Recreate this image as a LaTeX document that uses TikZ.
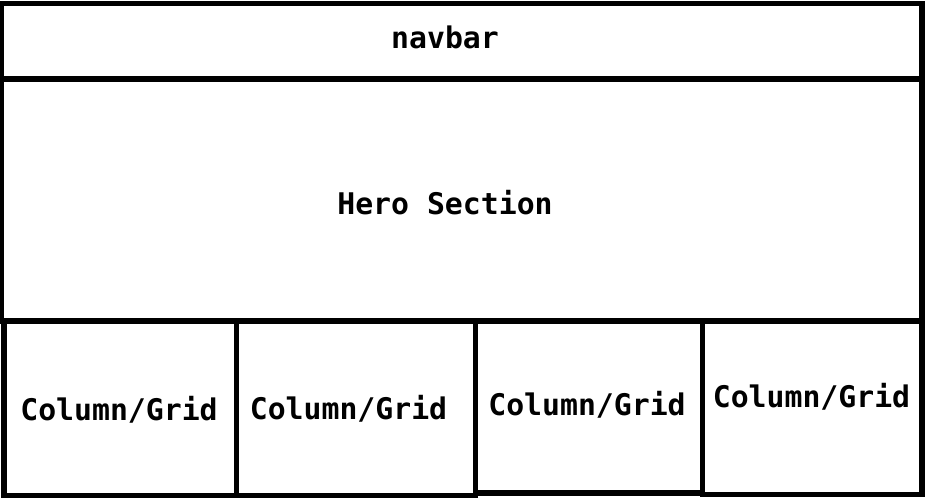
\documentclass[tikz,border=0pt]{standalone}
\usepackage{fontspec}
\setmonofont{DejaVu Sans Mono}
\begin{document}
\begin{tikzpicture}[x=1pt,y=1pt,
  box/.style={draw=black,line width=5.5pt},
  lbl/.style={anchor=base,inner sep=0pt,font=\ttfamily\bfseries\fontsize{29.8}{31}\selectfont}]
\useasboundingbox (0,0) rectangle (925,498);
\fill[white] (0,0) rectangle (925,498);
% boxes
\draw[box] (1,494.5) rectangle (922,419);
\draw[box] (1,419) rectangle (922,177);
\draw[box] (4,177) rectangle (236.5,2.5);
\draw[box] (236.5,177) rectangle (475.5,2.5);
\draw[box] (475.5,177) rectangle (702.5,5);
\draw[box] (702.5,177) rectangle (922,3.5);
% labels
\node[lbl] (nav) at (445,449) {navbar};
\node[lbl] (hero) at (445,283) {Hero Section};
\node[lbl] (c1) at (119,78) {Column/Grid};
\node[lbl] (c2) at (348.5,79) {Column/Grid};
\node[lbl] (c3) at (587,83) {Column/Grid};
\node[lbl] (c4) at (811.5,91) {Column/Grid};
\end{tikzpicture}
\end{document}
